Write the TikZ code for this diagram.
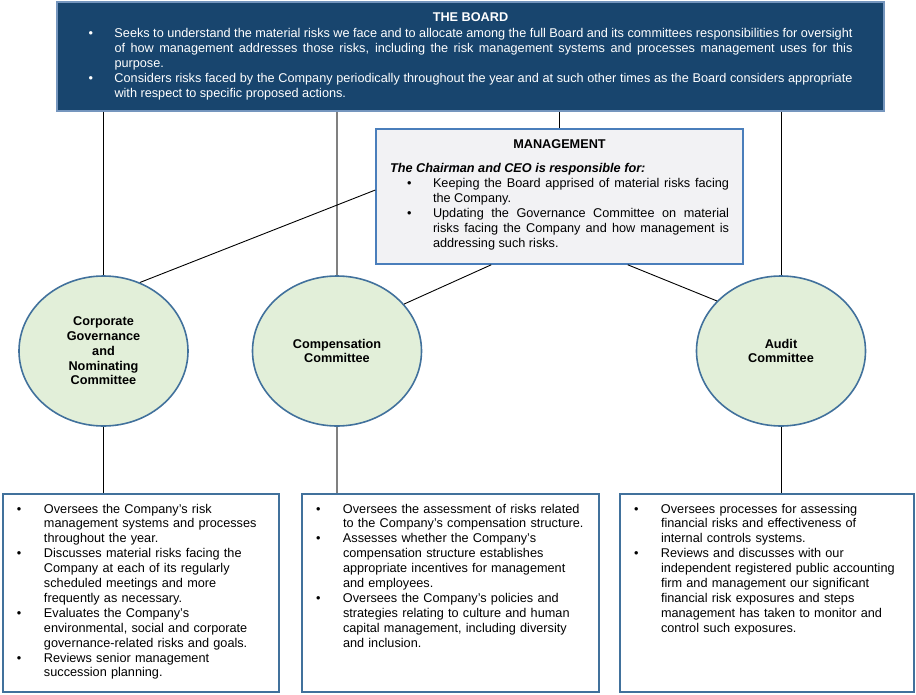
\documentclass[tikz,border=0pt]{standalone}
\usepackage{fontspec}
\setmainfont{Liberation Sans}
\usetikzlibrary{shapes.geometric}

\definecolor{boardblue}{HTML}{18456E}
\definecolor{boardedge}{HTML}{7596BE}
\definecolor{mgmtfill}{HTML}{F2F2F4}
\definecolor{mgmtedge}{HTML}{4A7EBB}
\definecolor{ringfill}{HTML}{E2EFD9}
\definecolor{ringedge}{HTML}{41719C}

\newlength\itemhang
\newlength\bulletskip
\newcommand\riskitem[1]{\noindent\hangindent=\itemhang\hangafter=1%
  \hbox to\itemhang{\hskip\bulletskip\textbullet\hfil}#1\par}

\begin{document}
\begin{tikzpicture}[
    %–––– GLOBAL STYLE TWEAKS ––––
    x=1pt, y=-1pt,                                   % pixel grid, y down
    font=\fontsize{12.7}{15}\selectfont,
    boardbox/.style = {rectangle, draw=boardedge, line width=1.5pt,
                       fill=boardblue, text=white, align=justify,
                       text width=764pt, inner xsep=31.5pt, inner ysep=4pt,
                       text height=15pt, text depth=86pt,
                       execute at begin node={\setlength\itemhang{26pt}\setlength\bulletskip{0pt}}},
    mgmtbox/.style  = {rectangle, draw=mgmtedge, line width=1.6pt,
                       fill=mgmtfill, align=justify,
                       text width=339pt, inner xsep=14pt, inner ysep=4pt,
                       text height=15pt, text depth=112pt,
                       execute at begin node={\setlength\itemhang{43pt}\setlength\bulletskip{17pt}}},
    committee/.style = {ellipse, draw=ringedge, line width=1.6pt, fill=ringfill,
                        minimum width=169pt, minimum height=150pt, inner sep=0pt,
                        align=center, font=\bfseries\fontsize{12.7}{14.7}\selectfont},
    duties/.style   = {rectangle, draw=ringedge, line width=1.6pt, fill=white,
                       inner xsep=13pt, inner ysep=4pt,
                       text height=15pt, text depth=175pt,
                       font=\fontsize{12.7}{14.9}\selectfont,
                       execute at begin node={\raggedright\setlength\itemhang{28pt}\setlength\bulletskip{1pt}}},
    link/.style     = {draw=black, line width=0.9pt},
    graylink/.style = {draw=black!50, line width=1.8pt},
]
\useasboundingbox (0,0) rectangle (916,694);

%–––– BOARD AND MANAGEMENT ––––
\node (board) [boardbox] at (470.5,56.5) {%
  \noindent\makebox[\linewidth]{\bfseries THE BOARD}\par\vspace{1pt}
  \riskitem{Seeks to understand the material risks we face and to allocate among the full Board and its committees responsibilities for oversight\linebreak
    of how management addresses those risks, including the risk management systems and processes management uses for this\linebreak
    purpose.}
  \riskitem{Considers risks faced by the Company periodically throughout the year and at such other times as the Board considers appropriate\linebreak
    with respect to specific proposed actions.}};

\node (management) [mgmtbox] at (559.5,196.5) {%
  \noindent\makebox[\linewidth]{\bfseries MANAGEMENT}\par\vspace{9pt}
  \noindent{\bfseries\itshape The Chairman and CEO is responsible for:}\par
  \riskitem{Keeping the Board apprised of material risks facing\linebreak the Company.}
  \riskitem{Updating the Governance Committee on material\linebreak
    risks facing the Company and how management is\linebreak addressing such risks.}};

%–––– COMMITTEES ––––
\node (corp_gov) [committee] at (103.5,351) {Corporate\\Governance\\and\\Nominating\\Committee};
\node (comp)     [committee] at (337,351)   {Compensation\\Committee};
\node (audit)    [committee] at (781,351)   {Audit\\Committee};

%–––– COMMITTEE DUTIES ––––
\node (duties_gov) [duties, text width=250pt] at (141,593) {%
  \riskitem{Oversees the Company’s risk\newline management systems and processes\newline throughout the year.}
  \riskitem{Discusses material risks facing the\newline Company at each of its regularly\newline scheduled meetings and more\newline frequently as necessary.}
  \riskitem{Evaluates the Company’s\newline environmental, social and corporate\newline governance-related risks and goals.}
  \riskitem{Reviews senior management\newline succession planning.}};

\node (duties_comp) [duties, text width=271pt] at (450.5,593) {%
  \riskitem{Oversees the assessment of risks related\newline to the Company’s compensation structure.}
  \riskitem{Assesses whether the Company’s\newline compensation structure establishes\newline appropriate incentives for management\newline and employees.}
  \riskitem{Oversees the Company’s policies and\newline strategies relating to culture and human\newline capital management, including diversity\newline and inclusion.}};

\node (duties_audit) [duties, text width=268pt] at (767,593) {%
  \riskitem{Oversees processes for assessing\newline financial risks and effectiveness of\newline internal controls systems.}
  \riskitem{Reviews and discusses with our\newline independent registered public accounting\newline firm and management our significant\newline financial risk exposures and steps\newline management has taken to monitor and\newline control such exposures.}};

%–––– CONNECTORS ––––
\foreach \c in {corp_gov, management, audit}
  \draw[link] (\c.north |- board.south) -- (\c.north);
\draw[graylink] (comp.north |- board.south) -- (comp.north);

\foreach \a/\b in {management.178/corp_gov.62, management.225/comp.35,
                   management.315/audit.142}
  \draw[link] (\a) -- (\b);

\foreach \c/\d in {corp_gov/duties_gov, audit/duties_audit}
  \draw[link] (\c.south) -- (\c.south |- \d.north);
\draw[graylink] (comp.south) -- (comp.south |- duties_comp.north);
\end{tikzpicture}
\end{document}
